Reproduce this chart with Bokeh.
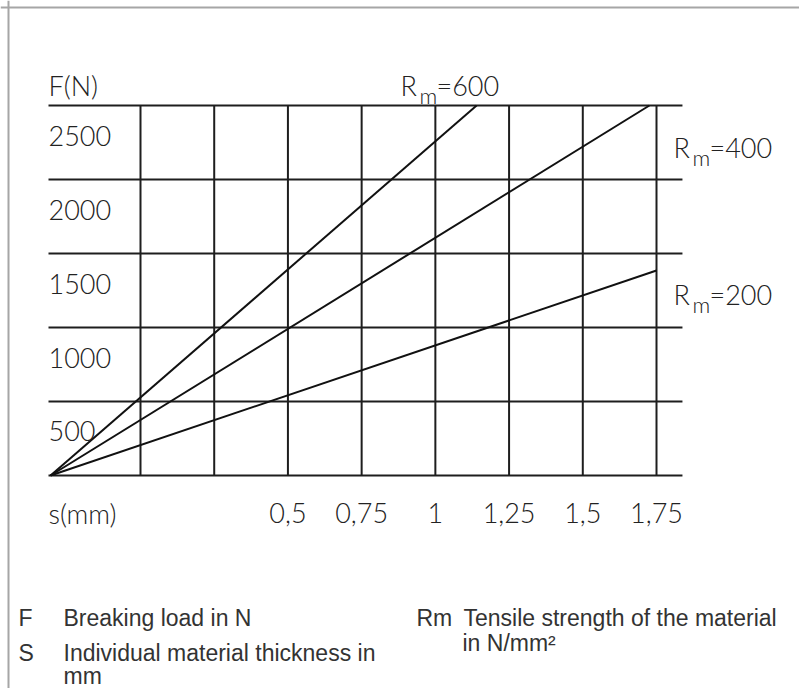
from bokeh.plotting import figure
from bokeh.models import Range1d, Label, Span, ColumnDataSource
from bokeh.core.properties import value
from bokeh.embed import file_html
from bokeh.resources import INLINE

# ---------------- data ----------------
s_grid = [0, 0.25, 0.5, 0.75, 1.0, 1.25, 1.5, 1.75]          # vertical grid lines (mm)
s_ticks = [0.5, 0.75, 1.0, 1.25, 1.5, 1.75]
s_tick_labels = ["0,5", "0,75", "1", "1,25", "1,5", "1,75"]
F_grid = [0, 500, 1000, 1500, 2000, 2500]                     # horizontal grid lines (N)
F_ticks = [500, 1000, 1500, 2000, 2500]
F_tick_labels = ["500", "1000", "1500", "2000", "2500"]

Rm_values = [600, 400, 200]
line_s_start = [-0.305, -0.305, -0.305]
line_F_start = [0, 0, 0]
line_s_end = [1.14, 1.726, 1.75]
line_F_end = [2500, 2500, 1385]

# ---------------- layout constants ----------------
W, H = 799, 688
X0, X1 = -0.47480, 2.23496
Y0, Y1 = -1439.19, 3209.46
PX_PER_S = W / (X1 - X0)
PX_PER_F = H / (Y1 - Y0)
GRID_X_START, GRID_X_END = -0.312, 1.838
FONT = "Liberation Sans"
CFONT = "Lato Light"
INK = "#1e1e1e"
TXT = "#222222"

p = figure(width=W, height=H, output_backend="svg", toolbar_location=None,
           x_range=Range1d(X0, X1), y_range=Range1d(Y0, Y1),
           x_axis_location=None, y_axis_location=None, min_border=0)
p.outline_line_color = None
p.xgrid.visible = False
p.ygrid.visible = False
p.background_fill_color = "white"
p.border_fill_color = "white"

# frame border (left and top)
p.add_layout(Span(location=X0 + 8.0 / PX_PER_S, dimension="height",
                  line_color="#a6a6a6", line_width=2))
p.add_layout(Span(location=Y1 - 7.0 / PX_PER_F, dimension="width",
                  line_color="#a6a6a6", line_width=2))

# grid
hsrc = ColumnDataSource(dict(x0=[GRID_X_START] * len(F_grid), x1=[GRID_X_END] * len(F_grid),
                             y0=F_grid, y1=F_grid))
p.segment("x0", "y0", "x1", "y1", source=hsrc, line_color=INK, line_width=2)
vsrc = ColumnDataSource(dict(x0=s_grid, x1=s_grid, y0=[F_grid[0]] * len(s_grid),
                             y1=[F_grid[-1]] * len(s_grid)))
p.segment("x0", "y0", "x1", "y1", source=vsrc, line_color=INK, line_width=2)

# Rm lines
lsrc = ColumnDataSource(dict(x0=line_s_start, y0=line_F_start, x1=line_s_end, y1=line_F_end))
p.segment("x0", "y0", "x1", "y1", source=lsrc, line_color="#111111", line_width=2)

# y tick labels (below each grid line, left aligned)
ysrc = ColumnDataSource(dict(x=[GRID_X_START] * len(F_ticks), y=F_ticks, t=F_tick_labels))
p.text("x", "y", text="t", source=ysrc, text_font=value(CFONT), text_font_size="27px",
       text_align="left", text_baseline="alphabetic", y_offset=30, text_color=TXT)
# y axis title
p.text(x=[GRID_X_START], y=[F_grid[-1]], text=["F(N)"], text_font=value(CFONT),
       text_font_size="27px", text_align="left", text_baseline="alphabetic",
       y_offset=-20, text_color=TXT)

# x tick labels
xsrc = ColumnDataSource(dict(x=s_ticks, y=[0] * len(s_ticks), t=s_tick_labels))
p.text("x", "y", text="t", source=xsrc, text_font=value(CFONT), text_font_size="27px",
       text_align="center", text_baseline="alphabetic", y_offset=38, text_color=TXT)
p.text(x=[GRID_X_START], y=[0], text=["s(mm)"], text_font=value(CFONT),
       text_font_size="27px", text_align="left", text_baseline="alphabetic",
       y_offset=38, text_color=TXT)

# Rm labels
lab_s = [0.8818, 1.8076, 1.8076]
lab_F = [2635, 2216, 1223]
rsrc = ColumnDataSource(dict(x=lab_s, y=lab_F,
                             r=["R"] * len(Rm_values),
                             m=["m"] * len(Rm_values),
                             v=["=%d" % v for v in Rm_values]))
p.text("x", "y", text="r", source=rsrc, text_font=value(CFONT), text_font_size="27px",
       text_align="left", text_baseline="alphabetic", text_color=TXT)
p.text("x", "y", text="m", source=rsrc, text_font=value(CFONT), text_font_size="22px",
       text_align="left", text_baseline="alphabetic", x_offset=19, y_offset=10,
       text_color=TXT)
p.text("x", "y", text="v", source=rsrc, text_font=value(CFONT), text_font_size="27px",
       text_align="left", text_baseline="alphabetic", x_offset=36, text_color=TXT)

# explanation text
LEG = "#333333"
def leg(x_page, base_page, txt):
    p.add_layout(Label(x=x_page, y=H - base_page, x_units="screen", y_units="screen",
                       text=txt, text_font=FONT, text_font_size="23px",
                       text_baseline="alphabetic", text_align="left", text_color=LEG))

leg(18, 617, "F")
leg(63, 617, "Breaking load in N")
leg(18, 652, "S")
leg(63, 652, "Individual material thickness in")
leg(63, 675, "mm")
leg(416, 617, "Rm")
leg(463, 617, "Tensile strength of the material")
leg(462, 642, "in N/mm²")

open("out.html", "w").write(file_html(p, INLINE))
